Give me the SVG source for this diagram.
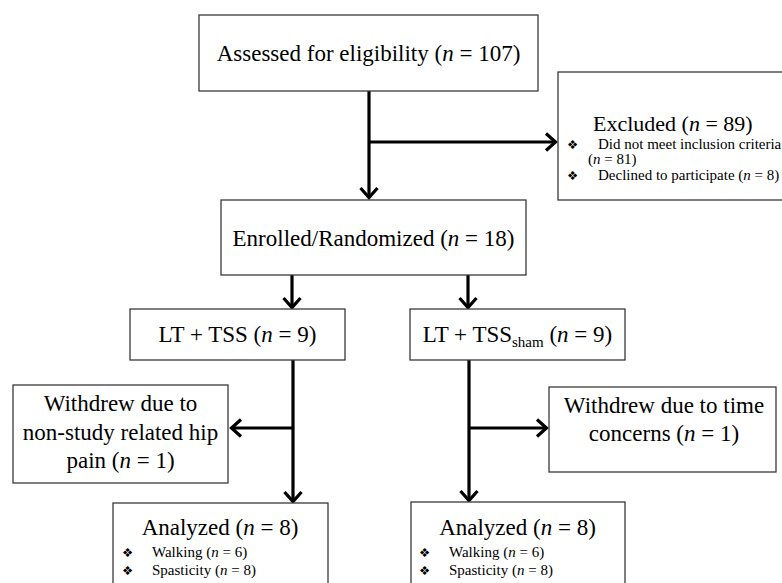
<svg xmlns="http://www.w3.org/2000/svg" width="782" height="583" viewBox="0 0 782 583">
<style>
.box{fill:#fff;stroke:#3a3a3a;stroke-width:1.3}
.t{font-family:'Liberation Serif','Tinos','Times New Roman','DejaVu Serif',serif;font-size:23px;fill:#000}
.s{font-family:'Liberation Serif','Tinos','Times New Roman','DejaVu Serif',serif;font-size:15px;fill:#000}
.b{font-family:'DejaVu Sans',sans-serif;font-size:12.5px;fill:#000}
.i{font-style:italic}
.c{text-anchor:middle}
.ln{fill:none;stroke:#000;stroke-width:3.2}
</style>
<defs>
<marker id="ah" markerUnits="userSpaceOnUse" markerWidth="24" markerHeight="24" viewBox="-14 -12 16 24" refX="0" refY="0" orient="auto">
<path d="M-10,-8.5 L-0.5,0 L-10,8.5" fill="none" stroke="#000" stroke-width="3.2"/>
</marker>
</defs>
<rect width="782" height="583" fill="#fff"/>
<g id="connectors">
<path class="ln" d="M369,91 V198" marker-end="url(#ah)"/>
<path class="ln" d="M369,142 H556" marker-end="url(#ah)"/>
<path class="ln" d="M292,275 V308" marker-end="url(#ah)"/>
<path class="ln" d="M468,275 V308" marker-end="url(#ah)"/>
<path class="ln" d="M293,360 V502" marker-end="url(#ah)"/>
<path class="ln" d="M293,428 H231" marker-end="url(#ah)"/>
<path class="ln" d="M469,360 V501" marker-end="url(#ah)"/>
<path class="ln" d="M469,428 H547" marker-end="url(#ah)"/>
</g>
<g id="assessed">
<rect class="box" x="199" y="15" width="339" height="76"/>
<text class="t c" x="368.5" y="61">Assessed for eligibility (<tspan class="i">n</tspan> = 107)</text>
</g>
<g id="excluded">
<rect class="box" x="558" y="72" width="240" height="128"/>
<text class="t" x="593" y="131" style="font-size:22px">Excluded (<tspan class="i">n</tspan> = 89)</text>
<text class="b" x="567" y="149">❖</text>
<text class="s" x="598" y="149">Did not meet inclusion criteria</text>
<text class="s" x="588" y="164">(<tspan class="i">n</tspan> = 81)</text>
<text class="b" x="567" y="180">❖</text>
<text class="s" x="598" y="180">Declined to participate (<tspan class="i">n</tspan> = 8)</text>
</g>
<g id="enrolled">
<rect class="box" x="221" y="200" width="305" height="75"/>
<text class="t c" x="373.5" y="246">Enrolled/Randomized (<tspan class="i">n</tspan> = 18)</text>
</g>
<g id="lt-tss">
<rect class="box" x="130" y="309" width="215" height="51"/>
<text class="t c" x="237.5" y="342">LT + TSS (<tspan class="i">n</tspan> = 9)</text>
</g>
<g id="lt-tss-sham">
<rect class="box" x="410" y="309" width="215" height="51"/>
<text class="t c" x="517.5" y="342">LT + TSS<tspan style="font-size:15px" dy="5">sham</tspan><tspan dy="-5"> (</tspan><tspan class="i">n</tspan> = 9)</text>
</g>
<g id="withdrew-left">
<rect class="box" x="13" y="385" width="215" height="98"/>
<text class="t c" x="120.5" y="411">Withdrew due to</text>
<text class="t c" x="120.5" y="440">non-study related hip</text>
<text class="t c" x="120.5" y="468">pain (<tspan class="i">n</tspan> = 1)</text>
</g>
<g id="withdrew-right">
<rect class="box" x="549" y="387" width="227" height="85"/>
<text class="t c" x="664" y="413">Withdrew due to time</text>
<text class="t c" x="664" y="441">concerns (<tspan class="i">n</tspan> = 1)</text>
</g>
<g id="analyzed-left">
<rect class="box" x="113" y="503" width="215" height="100"/>
<text class="t c" x="220" y="535">Analyzed (<tspan class="i">n</tspan> = 8)</text>
<text class="b" x="122" y="557">❖</text>
<text class="s" x="152" y="557">Walking (<tspan class="i">n</tspan> = 6)</text>
<text class="b" x="122" y="575">❖</text>
<text class="s" x="152" y="575">Spasticity (<tspan class="i">n</tspan> = 8)</text>
</g>
<g id="analyzed-right">
<rect class="box" x="411" y="502" width="214" height="100"/>
<text class="t c" x="517.5" y="535">Analyzed (<tspan class="i">n</tspan> = 8)</text>
<text class="b" x="419" y="557">❖</text>
<text class="s" x="449" y="557">Walking (<tspan class="i">n</tspan> = 6)</text>
<text class="b" x="419" y="575">❖</text>
<text class="s" x="449" y="575">Spasticity (<tspan class="i">n</tspan> = 8)</text>
</g>
</svg>
